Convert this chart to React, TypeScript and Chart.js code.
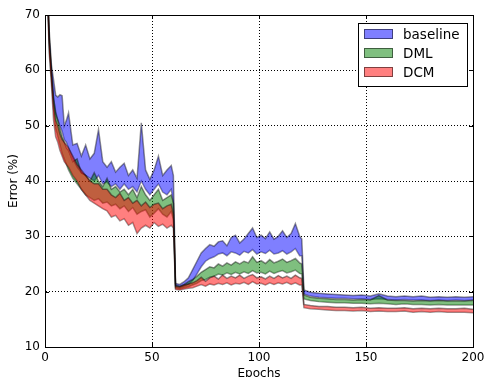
import React, { useEffect, useRef } from 'react';
import { Chart, registerables } from 'chart.js';
Chart.register(...registerables);

const FONT = 'DejaVu Sans';

const EPOCHS = [
  1, 2, 3, 4, 5, 6, 7, 8, 9, 10,
  11, 13, 15, 17, 19, 21, 23, 25, 27, 29,
  31, 33, 35, 37, 39, 41, 43, 45, 47, 49,
  51, 53, 55, 57, 59, 60,
  61, 63, 65, 67, 69, 71, 73, 75, 77, 79,
  81, 83, 85, 87, 89, 91, 93, 95, 97, 99,
  101, 103, 105, 107, 109, 111, 113, 115, 117, 119,
  120,
  121, 124, 128, 132, 136, 140, 144, 148, 152, 156,
  160, 164, 168, 172, 176, 180, 184, 188, 192, 196,
  200,
];

const BASE_HI = [
  78, 67, 61, 58.3, 55.5, 55.2, 55.6, 55.4, 50, 51,
  52.3, 46.5, 46.8, 44.5, 46.5, 44, 45, 49.3, 43.5, 42.5,
  43.5, 41.6, 42.5, 43.2, 41, 42, 40.5, 50.5, 42, 40.3,
  42, 44.5, 41, 42, 42.8, 41,
  21.5, 21.3, 21.8, 22.5, 24, 25.5, 27, 27.8, 28.5, 28.2,
  29, 29.2, 28.3, 29.8, 30.2, 28.8, 29.5, 30.5, 31.5, 29.8,
  30.2, 29.6, 30.8, 29.5, 30, 31, 29.8, 30.5, 32.3, 30,
  29.5,
  20.3, 19.9, 19.7, 19.6, 19.5, 19.4, 19.3, 19.4, 19.2, 19.6,
  19.2, 19.1, 19.2, 19.1, 19.2, 19.0, 19.1, 19.0, 19.1, 19.0,
  19.1,
];
const BASE_LO = [
  76, 65, 59.5, 55, 52, 51, 50, 49, 47.5, 47,
  46, 44, 42.5, 41.5, 41, 40.5, 40, 41, 39.5, 39.8,
  39, 39.5, 38.5, 39.5, 38.5, 39, 38, 40, 38.5, 37.5,
  38.5, 39.5, 38, 37.5, 38.5, 36,
  20.8, 20.7, 21, 21.3, 22, 23.2, 24.5, 25.5, 26, 26.3,
  26.8, 27, 26.5, 27.2, 27, 26.6, 27.3, 27, 27.6, 26.8,
  27.2, 26.9, 27.5, 26.8, 27, 27.4, 26.8, 27.2, 27.8, 26.5,
  26.5,
  19.6, 19.2, 19.0, 18.9, 18.8, 18.8, 18.7, 18.7, 18.6, 18.7,
  18.6, 18.5, 18.6, 18.5, 18.5, 18.4, 18.5, 18.4, 18.5, 18.4,
  18.5,
];
const DML_HI = [
  77, 66, 60, 55, 52.5, 51, 49.5, 48, 47, 46,
  45.5, 43.5, 44, 41.5, 41, 40, 41.5, 40, 39, 40.5,
  38.5, 39, 38, 38.5, 37.5, 38.5, 37, 39, 37.5, 36.5,
  37.5, 38.5, 36.5, 37, 37.5, 36,
  21.2, 21, 21.3, 21.8, 22.2, 22.8, 23.5, 24, 24.5, 24.3,
  25, 24.6, 25.2, 24.8, 25.4, 25, 25.5, 25.2, 26.3, 25.3,
  25.6, 25.1, 25.8, 25.2, 25.5, 25.9, 25.3, 25.6, 26, 25.2,
  25,
  19.4, 19.0, 18.8, 18.7, 18.6, 18.6, 18.5, 18.6, 18.5, 19.3,
  18.5, 18.4, 18.4, 18.3, 18.4, 18.3, 18.4, 18.3, 18.3, 18.3,
  18.4,
];
const DML_LO = [
  76, 64, 58.5, 53, 49.5, 48, 46.5, 45, 44, 43,
  42, 40.5, 39.5, 38.5, 37.5, 37, 36.5, 36.8, 36, 36.2,
  35.5, 35.8, 35, 35.5, 34.5, 35.2, 34, 34.5, 34.8, 33.5,
  34.2, 35, 34, 33.5, 34.5, 33,
  20.6, 20.5, 20.7, 20.9, 21.2, 21.5, 22, 22.2, 22.6, 22.8,
  23.2, 23, 23.4, 23.1, 23.5, 23.2, 23.6, 23.3, 23.8, 23.4,
  23.5, 23.2, 23.7, 23.3, 23.6, 23.8, 23.4, 23.6, 23.9, 23.3,
  23.2,
  18.7, 18.4, 18.2, 18.1, 18.0, 18.0, 17.9, 17.9, 17.8, 17.9,
  17.8, 17.7, 17.8, 17.7, 17.7, 17.6, 17.7, 17.6, 17.6, 17.6,
  17.6,
];
const DCM_HI = [
  77, 65.5, 59.5, 54, 51, 50, 48.5, 47.5, 47, 46.5,
  46, 44.5, 43, 42, 41, 40, 39.5, 39.5, 38.5, 38.5,
  37.5, 37, 37.8, 36.5, 37, 36, 36.5, 35.5, 36.2, 35.2,
  35.8, 36, 35, 35.5, 35.8, 34,
  21, 20.9, 21.2, 21.4, 21.6, 22, 22.6, 21.9, 22.5, 22.8,
  22.3, 23, 22.4, 22.8, 22.5, 23, 22.4, 22.8, 23.1, 22.5,
  22.7, 22.3, 22.8, 22.4, 22.9, 22.5, 22.8, 22.4, 23, 22.5,
  22.4,
  17.7, 17.5, 17.3, 17.3, 17.2, 17.2, 17.1, 17.2, 17.0, 17.1,
  17.0, 17.0, 17.1, 16.9, 17.0, 16.9, 17.0, 16.9, 16.9, 17.0,
  16.8,
];
const DCM_LO = [
  75, 63, 57.5, 51, 48, 47, 45.5, 44.5, 43.5, 43,
  42.5, 41, 40, 38.5, 37.5, 36.5, 36, 35.5, 35, 34.6,
  33.5, 33.8, 32.8, 33.2, 32, 32.5, 30.5, 31.5, 32, 31.5,
  32.5, 31.8, 32.2, 31.5, 32, 31.5,
  20.4, 20.3, 20.5, 20.6, 20.7, 21, 21.3, 21, 21.4, 21.2,
  21.5, 21.3, 21.6, 21.2, 21.5, 21.4, 21.7, 21.3, 21.8, 21.4,
  21.5, 21.2, 21.6, 21.3, 21.6, 21.4, 21.7, 21.3, 21.6, 21.2,
  21.2,
  17.1, 16.9, 16.8, 16.7, 16.6, 16.6, 16.5, 16.6, 16.4, 16.5,
  16.4, 16.4, 16.5, 16.3, 16.4, 16.3, 16.4, 16.3, 16.3, 16.3,
  16.2,
];

const SERIES_LABELS = ['baseline', 'DML', 'DCM'];
const SERIES_COLORS = ['rgba(0,0,255,0.5)', 'rgba(0,128,0,0.5)', 'rgba(255,0,0,0.5)'];
const X_TICKS = [0, 50, 100, 150, 200];
const Y_TICKS = [10, 20, 30, 40, 50, 60, 70];
const X_TITLE = 'Epochs';
const Y_TITLE = 'Error (%)';

export default function App() {
  const ref = useRef<HTMLCanvasElement>(null);

  useEffect(() => {
    document.body.style.margin = '0';
    const canvas = ref.current;
    if (!canvas) return;
    const pts = (ys: number[]) => EPOCHS.map((x, i) => ({ x, y: ys[i] }));
    const edge = 'rgba(0,0,0,0.42)';
    const mk = (label: string, ys: number[], color: string, fill: any) => ({
      label,
      data: pts(ys),
      borderColor: edge,
      borderWidth: 1.5,
      backgroundColor: color,
      fill,
      pointRadius: 0,
      tension: 0,
    });
    const datasets = [
      mk(SERIES_LABELS[2], DCM_HI, SERIES_COLORS[2], '+1'),
      mk(SERIES_LABELS[2] + ' lo', DCM_LO, SERIES_COLORS[2], false),
      mk(SERIES_LABELS[1], DML_HI, SERIES_COLORS[1], '+1'),
      mk(SERIES_LABELS[1] + ' lo', DML_LO, SERIES_COLORS[1], false),
      mk(SERIES_LABELS[0], BASE_HI, SERIES_COLORS[0], '+1'),
      mk(SERIES_LABELS[0] + ' lo', BASE_LO, SERIES_COLORS[0], false),
    ];

    const overlay = {
      id: 'overlay',
      afterDraw(chart: any) {
        const { ctx } = chart;
        const { left, right, top, bottom } = chart.chartArea;
        const xs = chart.scales.x;
        const ys = chart.scales.y;
        ctx.save();
        ctx.strokeStyle = '#000';
        ctx.lineWidth = 1;
        ctx.strokeRect(Math.round(left) + 0.5, Math.round(top) + 0.5, Math.round(right - left), Math.round(bottom - top));
        ctx.beginPath();
        X_TICKS.forEach((v) => {
          const px = Math.round(xs.getPixelForValue(v)) + 0.5;
          ctx.moveTo(px, bottom);
          ctx.lineTo(px, bottom - 4);
          ctx.moveTo(px, top);
          ctx.lineTo(px, top + 4);
        });
        Y_TICKS.forEach((v) => {
          const py = Math.round(ys.getPixelForValue(v)) + 0.5;
          ctx.moveTo(left, py);
          ctx.lineTo(left + 4, py);
          ctx.moveTo(right, py);
          ctx.lineTo(right - 4, py);
        });
        ctx.stroke();

        ctx.fillStyle = '#000';
        ctx.font = `12px "${FONT}"`;
        ctx.textAlign = 'center';
        ctx.textBaseline = 'alphabetic';
        ctx.fillText(X_TITLE, (left + right) / 2, 377);
        ctx.save();
        ctx.translate(14, (top + bottom) / 2);
        ctx.rotate(-Math.PI / 2);
        ctx.textBaseline = 'middle';
        ctx.fillText(Y_TITLE, 0, 0);
        ctx.restore();

        const lx = 358, ly = 23, lw = 109, lh = 63;
        ctx.fillStyle = '#fff';
        ctx.fillRect(lx, ly, lw, lh);
        ctx.strokeStyle = '#000';
        ctx.lineWidth = 1;
        ctx.strokeRect(lx + 0.5, ly + 0.5, lw, lh);
        ctx.font = `13.5px "${FONT}"`;
        ctx.textAlign = 'left';
        ctx.textBaseline = 'middle';
        SERIES_LABELS.forEach((lab, i) => {
          const cy = 34 + i * 19;
          ctx.fillStyle = SERIES_COLORS[i];
          ctx.fillRect(364, cy - 5, 29, 10);
          ctx.strokeStyle = 'rgba(0,0,0,0.5)';
          ctx.strokeRect(364.5, cy - 4.5, 28, 9);
          ctx.fillStyle = '#000';
          ctx.fillText(lab, 403, cy + 1);
        });
        ctx.restore();
      },
    };

    const tickFont = { family: FONT, size: 12 };
    const chart = new Chart(canvas, {
      type: 'line',
      data: { datasets: datasets as any },
      options: {
        animation: false,
        responsive: false,
        maintainAspectRatio: false,
        layout: { padding: { left: 0, top: 15, right: 12, bottom: 0 } },
        plugins: { legend: { display: false }, tooltip: { enabled: false } },
        scales: {
          x: {
            type: 'linear',
            min: 0,
            max: 200,
            z: 1,
            afterFit: (s: any) => { s.height = 30; s.paddingLeft = 0; s.paddingRight = 0; },
            ticks: { stepSize: 50, font: tickFont, color: '#000', padding: 4, maxRotation: 0 },
            grid: { color: '#000', lineWidth: 1, drawTicks: false },
            border: { display: true, color: '#000', width: 1, dash: [1, 2] },
          },
          y: {
            type: 'linear',
            min: 10,
            max: 70,
            z: 1,
            afterFit: (s: any) => { s.width = 45; s.paddingTop = 0; s.paddingBottom = 0; },
            ticks: { stepSize: 10, font: tickFont, color: '#000', padding: 5 },
            grid: { color: '#000', lineWidth: 1, drawTicks: false },
            border: { display: true, color: '#000', width: 1, dash: [1, 2] },
          },
        },
      },
      plugins: [overlay],
    });
    return () => chart.destroy();
  }, []);

  return (
    <div style={{ width: 485, height: 377 }}>
      <canvas ref={ref} width={485} height={377} style={{ display: 'block' }} />
    </div>
  );
}
